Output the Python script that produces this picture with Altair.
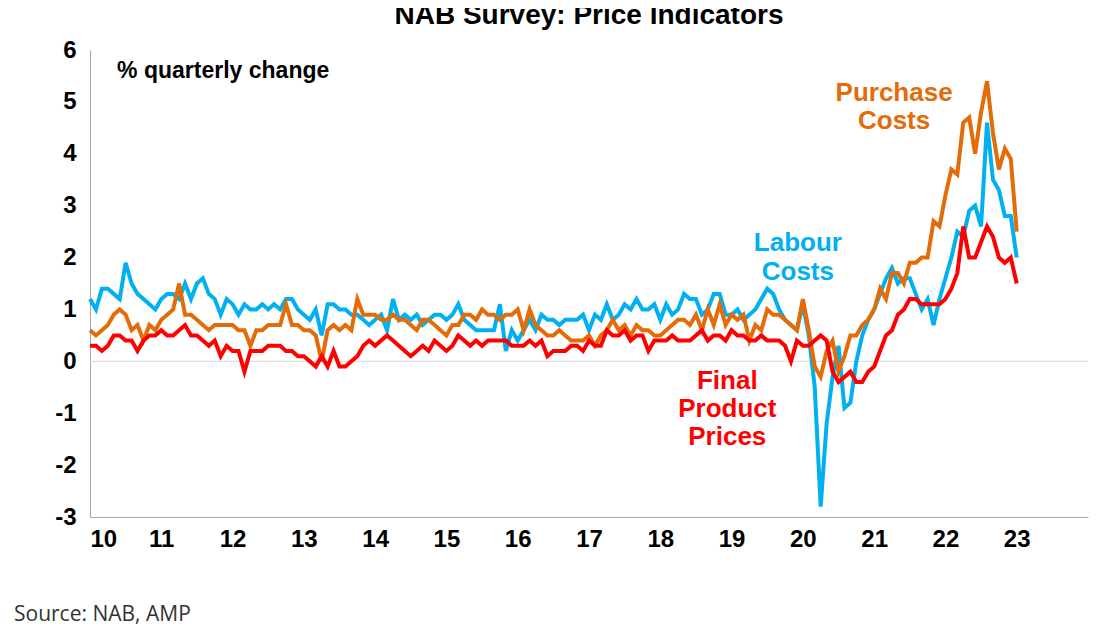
import pandas as pd
import altair as alt

# Monthly values, Jan 2010 .. Jan 2023 (% quarterly change)
labour = [
    1.2, 1.0, 1.4, 1.4, 1.3, 1.2, 1.9, 1.5, 1.3, 1.2, 1.1, 1.0,
    1.2, 1.3, 1.3, 1.2, 1.5, 1.2, 1.5, 1.6, 1.3, 1.2, 0.9, 1.2,
    1.1, 0.9, 1.1, 1.0, 1.0, 1.1, 1.0, 1.1, 1.0, 1.2, 1.2, 1.0,
    0.9, 0.8, 1.0, 0.5, 1.1, 1.1, 1.0, 1.0, 0.9, 0.9, 0.8, 0.7,
    0.8, 0.9, 0.6, 1.2, 0.8, 0.9, 0.8, 0.9, 0.7, 0.8, 0.9, 0.9,
    0.8, 0.9, 1.1, 0.8, 0.7, 0.6, 0.6, 0.6, 0.6, 1.1, 0.2, 0.6,
    0.4, 0.6, 0.8, 0.6, 0.9, 0.8, 0.8, 0.7, 0.8, 0.8, 0.8, 0.9,
    0.6, 0.9, 0.8, 1.1, 0.8, 0.9, 1.1, 1.0, 1.2, 1.0, 1.0, 1.1,
    0.8, 1.1, 0.9, 1.0, 1.3, 1.2, 1.2, 0.9, 1.0, 1.3, 1.3, 0.9,
    0.9, 1.0, 0.8, 0.9, 1.0, 1.2, 1.4, 1.3, 1.0, 0.8, 0.7, 0.6,
    1.1, 0.5, -0.5, -2.8, -1.2, -0.3, 0.3, -0.9, -0.8, 0.0, 0.5, 0.8,
    1.0, 1.3, 1.6, 1.8, 1.5, 1.6, 1.6, 1.3, 1.0, 1.2, 0.7, 1.2,
    1.6, 2.0, 2.5, 2.4, 2.9, 3.0, 2.6, 4.6, 3.5, 3.3, 2.8, 2.8,
    2.0,
]
purchase = [
    0.6, 0.5, 0.6, 0.7, 0.9, 1.0, 0.9, 0.6, 0.7, 0.4, 0.7, 0.6,
    0.8, 0.9, 1.0, 1.5, 0.9, 0.9, 0.8, 0.7, 0.6, 0.7, 0.7, 0.7,
    0.7, 0.6, 0.6, 0.3, 0.6, 0.6, 0.7, 0.7, 0.7, 1.1, 0.7, 0.7,
    0.6, 0.6, 0.5, 0.0, 0.6, 0.7, 0.6, 0.7, 0.6, 1.2, 0.9, 0.9,
    0.9, 0.8, 0.8, 0.9, 0.8, 0.8, 0.7, 0.6, 0.8, 0.8, 0.7, 0.6,
    0.5, 0.7, 0.7, 0.9, 0.9, 0.8, 1.0, 0.9, 0.9, 0.8, 0.9, 0.9,
    1.0, 0.6, 1.0, 0.7, 0.6, 0.5, 0.5, 0.6, 0.5, 0.4, 0.4, 0.4,
    0.5, 0.3, 0.5, 0.6, 0.8, 0.6, 0.7, 0.5, 0.7, 0.6, 0.6, 0.5,
    0.5, 0.6, 0.7, 0.8, 0.8, 0.7, 0.9, 0.6, 1.0, 0.7, 1.1, 0.7,
    0.9, 0.8, 0.9, 0.4, 0.7, 0.6, 1.0, 0.9, 0.9, 0.8, 0.7, 0.6,
    1.2, 0.6, -0.1, -0.3, 0.2, 0.4, -0.2, 0.1, 0.5, 0.5, 0.7, 0.8,
    1.0, 1.4, 1.2, 1.7, 1.7, 1.5, 1.9, 1.9, 2.0, 2.0, 2.7, 2.6,
    3.2, 3.7, 3.6, 4.6, 4.7, 4.0, 4.8, 5.4, 4.4, 3.7, 4.1, 3.9,
    2.5,
]
final = [
    0.3, 0.3, 0.2, 0.3, 0.5, 0.5, 0.4, 0.4, 0.2, 0.4, 0.5, 0.5,
    0.6, 0.5, 0.5, 0.6, 0.7, 0.5, 0.5, 0.4, 0.3, 0.4, 0.1, 0.3,
    0.2, 0.2, -0.2, 0.2, 0.2, 0.2, 0.3, 0.3, 0.3, 0.2, 0.2, 0.1,
    0.1, 0.0, -0.1, 0.1, -0.1, 0.2, -0.1, -0.1, 0.0, 0.1, 0.3, 0.4,
    0.3, 0.4, 0.5, 0.4, 0.3, 0.2, 0.1, 0.2, 0.3, 0.2, 0.4, 0.3,
    0.2, 0.3, 0.5, 0.4, 0.3, 0.4, 0.3, 0.4, 0.4, 0.4, 0.4, 0.3,
    0.3, 0.3, 0.4, 0.3, 0.4, 0.1, 0.2, 0.2, 0.2, 0.3, 0.3, 0.2,
    0.4, 0.3, 0.3, 0.6, 0.5, 0.5, 0.6, 0.4, 0.5, 0.5, 0.2, 0.4,
    0.4, 0.4, 0.5, 0.4, 0.4, 0.4, 0.5, 0.6, 0.4, 0.5, 0.5, 0.4,
    0.6, 0.5, 0.5, 0.4, 0.4, 0.5, 0.4, 0.4, 0.4, 0.3, 0.0, 0.4,
    0.3, 0.3, 0.4, 0.5, 0.4, -0.2, -0.4, -0.3, -0.2, -0.4, -0.4, -0.2,
    -0.1, 0.2, 0.5, 0.6, 0.9, 1.0, 1.2, 1.2, 1.1, 1.1, 1.1, 1.1,
    1.2, 1.4, 1.7, 2.6, 2.0, 2.0, 2.3, 2.6, 2.4, 2.0, 1.9, 2.0,
    1.5,
]

series_names = ["Labour Costs", "Purchase Costs", "Final Product Prices"]
series_colors = ["#00B0F0", "#E36C09", "#FF0000"]

rows = []
for name, vals in zip(series_names, [labour, purchase, final]):
    for i, v in enumerate(vals):
        rows.append({"t": 2010 + i / 12, "v": v, "series": name})
df = pd.DataFrame(rows)

x = alt.X("t:Q", scale=alt.Scale(domain=[2010, 2024], nice=False), title=None,
          axis=alt.Axis(values=list(range(2010, 2024)),
                        labelExpr="format(datum.value - 2000, 'd')",
                        grid=False, ticks=False, labelFontSize=24, labelFontWeight="bold",
                        labelColor="black", domainColor="#A6A6A6", labelPadding=10))
y = alt.Y("v:Q", scale=alt.Scale(domain=[-3, 6], nice=False), title=None,
          axis=alt.Axis(values=list(range(-3, 7)), grid=False, ticks=False,
                        labelExpr="replace(format(datum.value, 'd'), '\u2212', '-')",
                        labelFontSize=24, labelFontWeight="bold", labelColor="black",
                        domainColor="#A6A6A6", labelPadding=14))

lines = alt.Chart(df).mark_line(strokeWidth=4).encode(
    x=x, y=y,
    color=alt.Color("series:N", scale=alt.Scale(domain=series_names, range=series_colors), legend=None),
)

zero = alt.Chart(pd.DataFrame({"v": [0]})).mark_rule(color="#D9D9D9", strokeWidth=1).encode(y="v:Q")

ann = pd.DataFrame([
    {"t": 2021.28, "v": 5.17, "txt": "Purchase", "c": "#E36C09"},
    {"t": 2021.28, "v": 4.63, "txt": "Costs", "c": "#E36C09"},
    {"t": 2019.93, "v": 2.28, "txt": "Labour", "c": "#00B0F0"},
    {"t": 2019.93, "v": 1.72, "txt": "Costs", "c": "#00B0F0"},
    {"t": 2018.94, "v": -0.38, "txt": "Final", "c": "#FF0000"},
    {"t": 2018.94, "v": -0.92, "txt": "Product", "c": "#FF0000"},
    {"t": 2018.94, "v": -1.46, "txt": "Prices", "c": "#FF0000"},
])
labels = alt.Chart(ann).mark_text(fontSize=26, fontWeight="bold", font="Liberation Sans").encode(
    x="t:Q", y="v:Q", text="txt:N", color=alt.Color("c:N", scale=None))

unit = alt.Chart(pd.DataFrame({"t": [2010.38], "v": [5.6], "txt": ["% quarterly change"]})).mark_text(
    fontSize=23, fontWeight="bold", align="left", font="Liberation Sans").encode(x="t:Q", y="v:Q", text="txt:N")

source = alt.Chart(pd.DataFrame({"txt": ["Source: NAB, AMP"]})).mark_text(
    fontSize=21, align="left", font="Open Sans", color="#333333").encode(
    x=alt.value(-76), y=alt.value(565), text="txt:N")

chart = (zero + lines + labels + unit + source).properties(
    width=998, height=467,
    autosize=alt.AutoSizeParams(type="none"),
    padding={"left": 82, "top": 42, "right": 20, "bottom": 120},
    title=alt.TitleParams("NAB Survey: Price Indicators", fontSize=28, fontWeight="bold",
                          font="Liberation Sans", anchor="middle", offset=8, color="black"),
).configure_view(stroke=None).configure_axis(labelFont="Liberation Sans")

chart.save("out.html", embed_options={"renderer": "svg", "actions": False})
